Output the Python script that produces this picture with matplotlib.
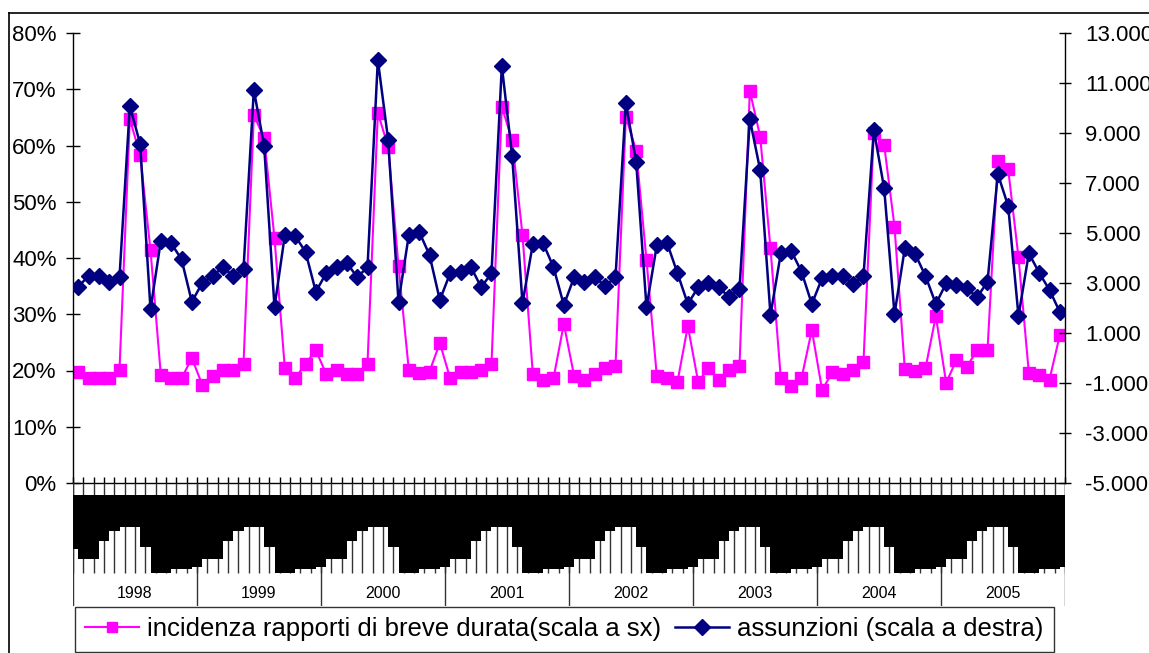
import matplotlib
matplotlib.use("Agg")
import matplotlib.pyplot as plt
import numpy as np
from matplotlib.lines import Line2D

plt.rcParams['font.family'] = ['Liberation Sans', 'DejaVu Sans']

years = ['1998', '1999', '2000', '2001', '2002', '2003', '2004', '2005']

# incidenza rapporti di breve durata (%), scala a sinistra
breve = [
    19.8, 18.6, 18.6, 18.6, 20.1, 64.7, 58.3, 41.4, 19.2, 18.6, 18.6, 22.2,
    17.5, 19.0, 20.1, 20.1, 21.2, 65.4, 61.3, 43.5, 20.4, 18.6, 21.2, 23.6,
    19.4, 20.1, 19.4, 19.4, 21.2, 65.8, 59.8, 38.5, 20.1, 19.6, 19.8, 24.9,
    18.6, 19.8, 19.8, 20.1, 21.2, 66.9, 60.9, 44.1, 19.4, 18.3, 18.6, 28.3,
    19.0, 18.3, 19.4, 20.4, 20.8, 65.1, 59.1, 39.6, 19.0, 18.6, 18.0, 27.9,
    18.0, 20.4, 18.3, 20.1, 20.8, 69.7, 61.6, 41.7, 18.6, 17.2, 18.6, 27.2,
    16.5, 19.8, 19.4, 20.1, 21.6, 62.2, 60.1, 45.6, 20.2, 19.9, 20.4, 29.7,
    17.8, 21.9, 20.7, 23.6, 23.6, 57.3, 55.8, 40.1, 19.6, 19.2, 18.4, 26.3,
]

# assunzioni, scala a destra
assunzioni = [
    2850, 3280, 3280, 3050, 3230, 10080, 8560, 1950, 4690, 4590, 3950, 2250,
    2990, 3280, 3630, 3280, 3550, 10720, 8480, 2030, 4920, 4880, 4250, 2650,
    3390, 3630, 3810, 3230, 3630, 11920, 8720, 2250, 4920, 5050, 4120, 2320,
    3390, 3450, 3650, 2830, 3390, 11680, 8080, 2190, 4560, 4590, 3630, 2120,
    3230, 3050, 3230, 2880, 3230, 10190, 7850, 2030, 4520, 4590, 3390, 2160,
    2830, 2990, 2830, 2430, 2750, 9550, 7520, 1720, 4190, 4290, 3450, 2160,
    3200, 3280, 3280, 2960, 3280, 9120, 6790, 1760, 4390, 4160, 3280, 2160,
    2990, 2920, 2790, 2430, 3050, 7360, 6080, 1680, 4190, 3410, 2720, 1840,
]

PINK = '#FF00FF'
NAVY = '#000080'
W, H = 1149, 653

# the month labels in the source render as solid black blocks under the axis
# depth (px below the axis) of each block, one per month boundary
block_depth = [84, 76, 76, 58, 48, 44, 44, 64, 90, 90, 86, 86]
first_block_depth = 66

n = len(breve)
x = np.arange(n)

fig = plt.figure(figsize=(W / 100, H / 100), dpi=100)

def fx(px):
    return px / W

def fy(py):
    return 1 - py / H

ax_l, ax_r, ax_t, ax_b = 73, 1065, 33, 483
ax = fig.add_axes([fx(ax_l), fy(ax_b), fx(ax_r - ax_l), (ax_b - ax_t) / H])
ax2 = ax.twinx()

ax.plot(x, breve, color=PINK, lw=1.5, marker='s', ms=8.5, mec=PINK, mfc=PINK,
        label='incidenza rapporti di breve durata(scala a sx)')
ax2.plot(x, assunzioni, color=NAVY, lw=1.8, marker='D', ms=8.5, mec=NAVY, mfc=NAVY,
         label='assunzioni (scala a destra)')

ax.set_xlim(-0.5, n - 0.5)
ax.set_ylim(0, 80)
ax.set_yticks(np.arange(0, 81, 10))
ax.set_yticklabels([f'{v}%' for v in range(0, 81, 10)])
ax2.set_ylim(-5000, 13000)
ax2.set_yticks(np.arange(-5000, 13001, 2000))
ax2.set_yticklabels([f'{v:,}'.replace(',', '.') for v in range(-5000, 13001, 2000)])

ax.set_xticks(np.arange(-0.5, n, 1))
ax.tick_params(axis='x', direction='in', length=4, width=1, labelbottom=False)
ax.tick_params(axis='y', direction='inout', length=9.5, width=1, labelsize=16, pad=7)
ax2.tick_params(axis='y', direction='inout', length=9, width=1, labelsize=16, pad=10)

for s in ['top', 'right']:
    ax.spines[s].set_visible(False)
for s in ['top', 'left', 'bottom']:
    ax2.spines[s].set_visible(False)
for a in (ax, ax2):
    for s in a.spines.values():
        s.set_linewidth(1)

# category label strip below the plot
lab = fig.add_axes([fx(ax_l), fy(606), fx(ax_r - ax_l), (606 - ax_b) / H])
lab.set_xlim(-0.5, n - 0.5)
lab.set_ylim(123, 0)
lab.axis('off')
lab.vlines(np.arange(-0.5, n, 1), 0, 90, color='#333333', lw=1, zorder=1)
lab.vlines(np.arange(-0.5, n, 12), 0, 123, color='#333333', lw=1, zorder=1)
depths = [first_block_depth] + [block_depth[m % 12] for m in range(1, n + 1)]
lab.stairs(depths, np.arange(-1, n + 1), baseline=12, fill=True,
           color='black', lw=0, zorder=3)
for k, yr in enumerate(years):
    lab.text(12 * k + 5.5, 110, yr, ha='center', va='center', fontsize=11.5)

# outer chart frame (right and bottom edges fall outside the picture)
fig.add_artist(Line2D([fx(9), 1], [fy(13), fy(13)], color='black', lw=1.2))
fig.add_artist(Line2D([fx(9), fx(9)], [0, fy(13)], color='black', lw=1.2))

h1, l1 = ax.get_legend_handles_labels()
h2, l2 = ax2.get_legend_handles_labels()
leg = fig.legend(h1 + h2, l1 + l2, loc='upper left', ncol=2,
                 bbox_to_anchor=(fx(75), fy(607)), borderaxespad=0,
                 fontsize=18.5, frameon=True, fancybox=False,
                 handlelength=2.1, handletextpad=0.3, columnspacing=0.55,
                 borderpad=0.4, markerscale=0.9)
leg.get_frame().set_edgecolor('black')
leg.get_frame().set_linewidth(1)

fig.savefig('out.png', dpi=100)
